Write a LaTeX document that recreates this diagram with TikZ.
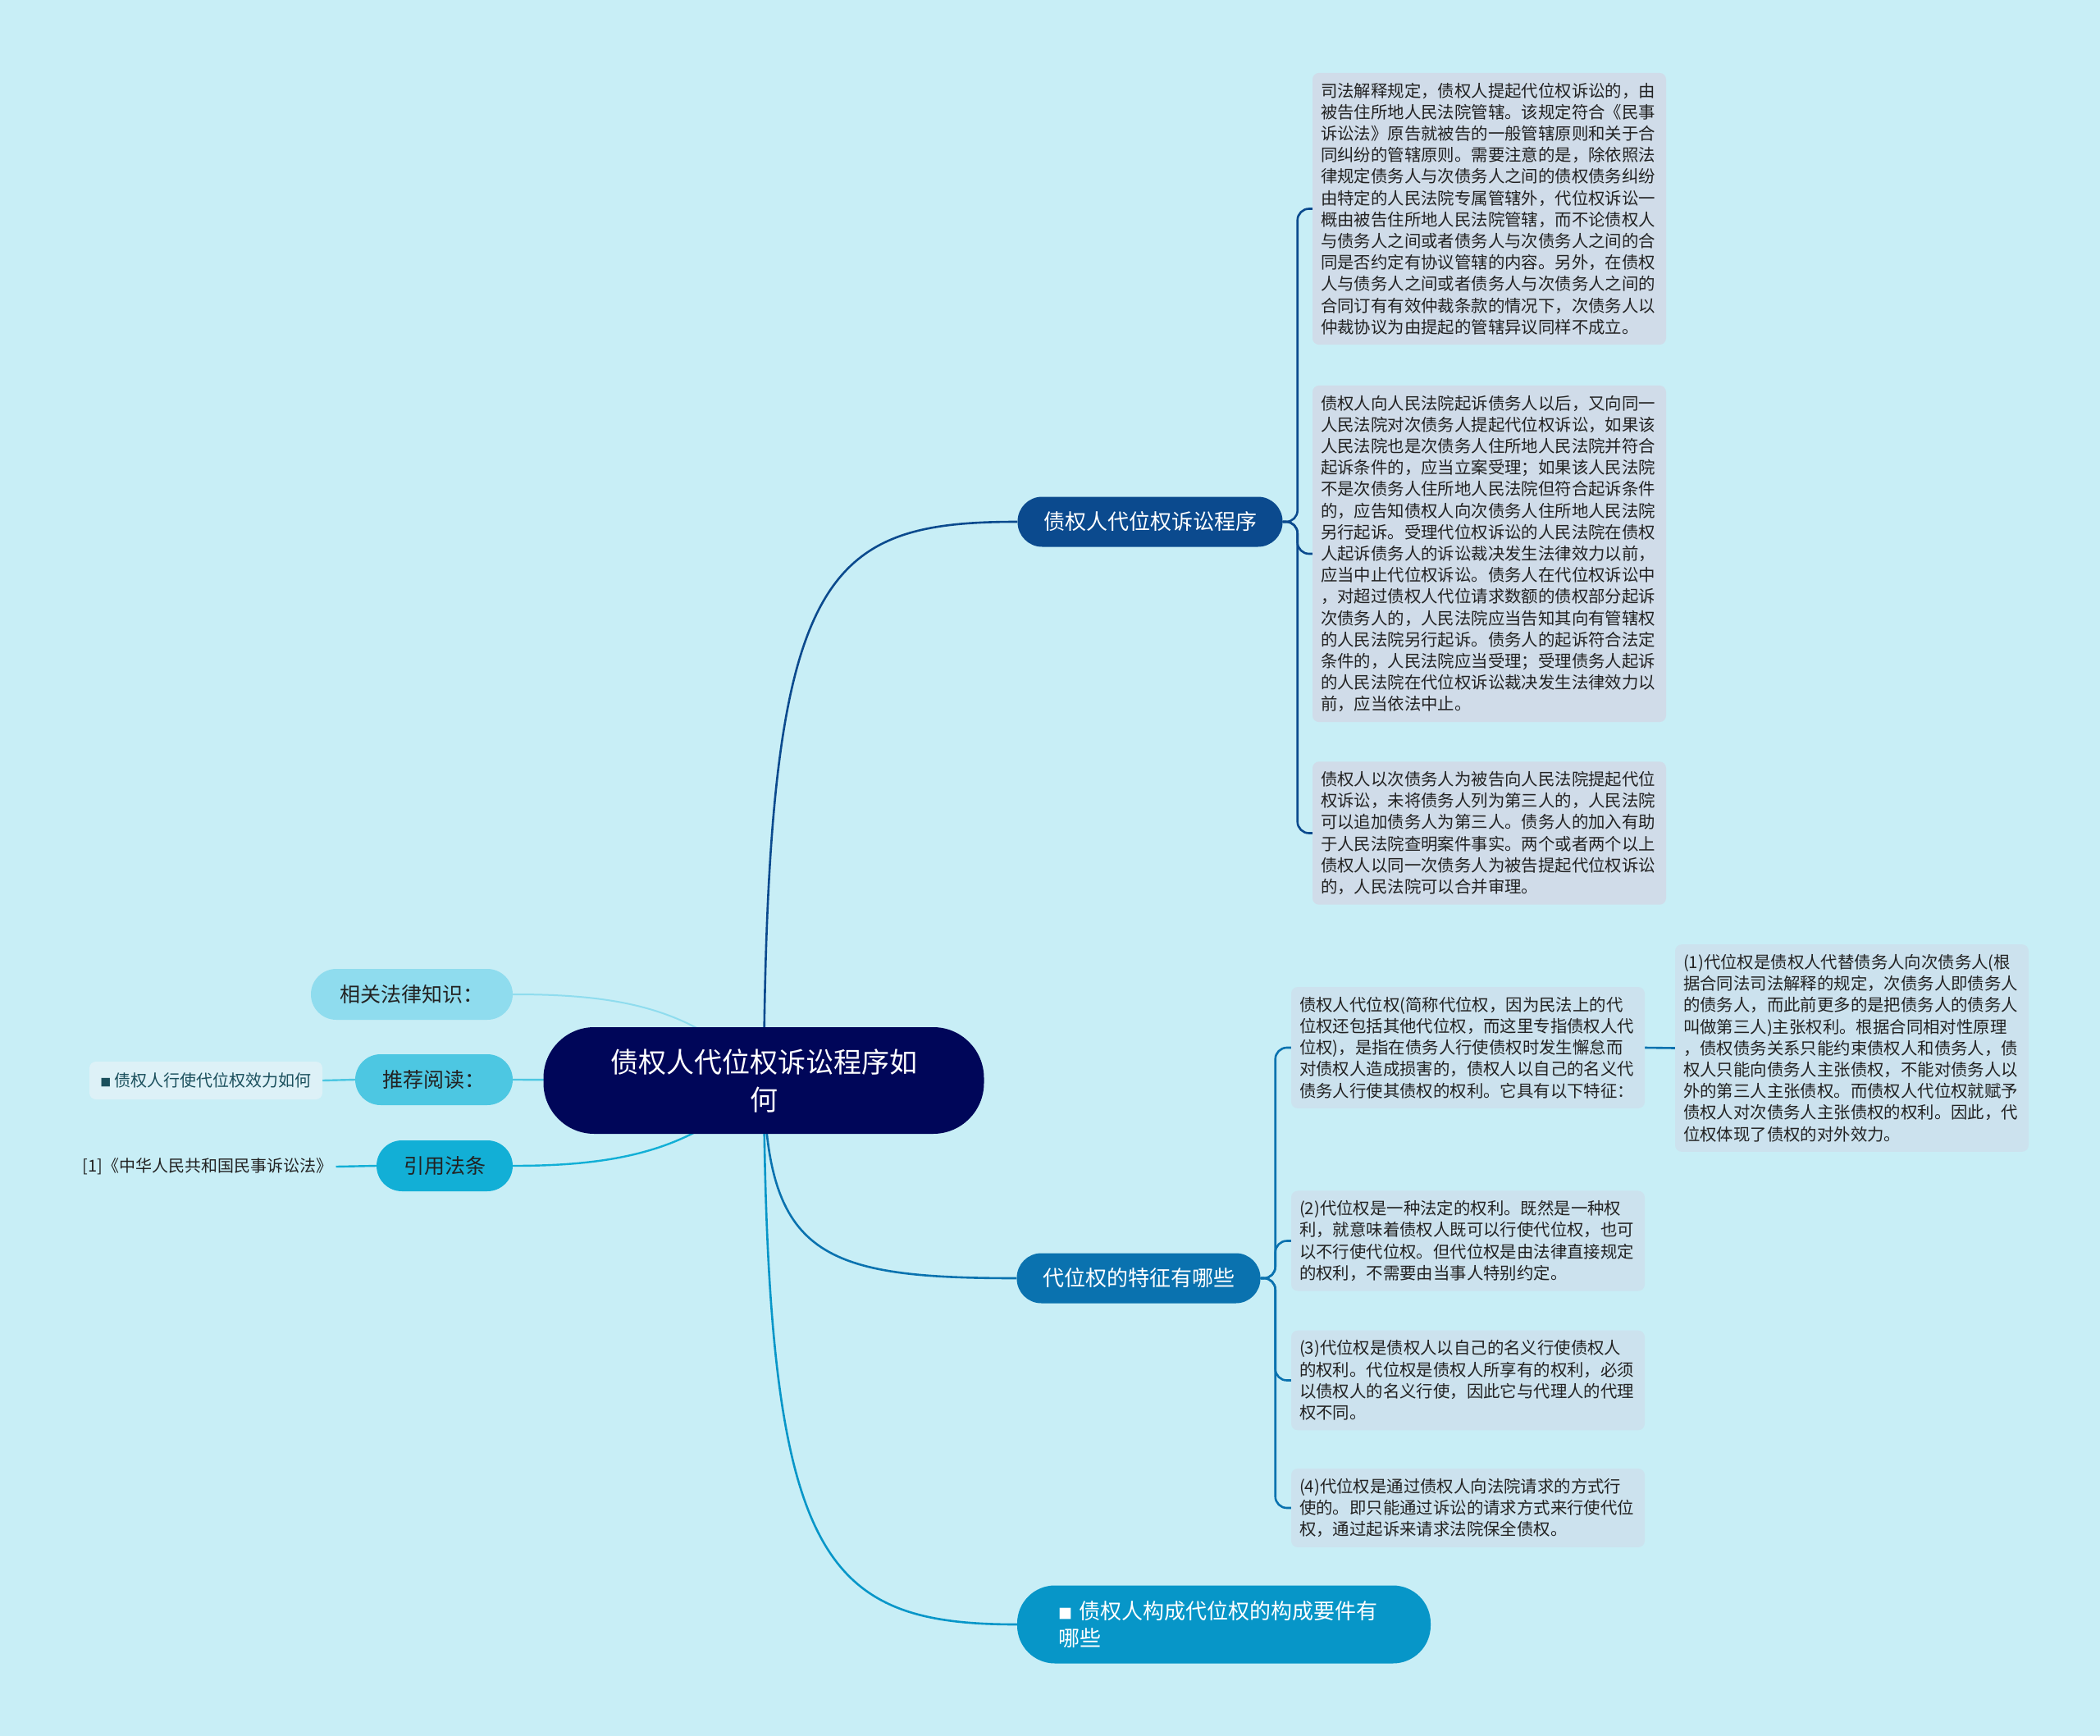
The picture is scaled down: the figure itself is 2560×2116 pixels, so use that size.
\documentclass[tikz,border=0pt]{standalone}
\usepackage{fontspec}
\setmainfont{Noto Sans CJK SC}

\definecolor{pagecol}{HTML}{C8EEF6}
\definecolor{rootcol}{HTML}{000659}
\definecolor{proccol}{HTML}{0B4A8E}
\definecolor{featcol}{HTML}{0A72AF}
\definecolor{elemcol}{HTML}{0796C8}
\definecolor{knowcol}{HTML}{8FDCEE}
\definecolor{readcol}{HTML}{4DC7E2}
\definecolor{citecol}{HTML}{12AFD6}
\definecolor{itemcol}{HTML}{DDF1F7}
\definecolor{noteA}{HTML}{D0DCE9}
\definecolor{noteB}{HTML}{CCE2EE}
\definecolor{inkcol}{HTML}{222222}
\definecolor{tealink}{HTML}{1A4F5C}

\pgfdeclarelayer{canvas}
\pgfdeclarelayer{links}
\pgfsetlayers{canvas,links,main}

\tikzset{
  rootnode/.style={fill=rootcol, text=white, rounded corners=62pt, align=center,
    minimum width=537pt, minimum height=130pt, inner sep=0pt,
    font=\fontsize{34}{46}\selectfont},
  topicpill/.style={text=white, rounded corners=30pt, inner sep=0pt,
    minimum height=61pt, font=\fontsize{26}{33}\selectfont},
  sidepill/.style={text=inkcol, rounded corners=31pt, inner sep=0pt,
    minimum height=62pt, font=\fontsize{25}{30}\selectfont},
  notebox/.style={text=inkcol, rounded corners=8pt, align=left, text width=411pt,
    inner xsep=10pt, inner ysep=12pt, font=\fontsize{20.4}{26.2}\selectfont},
  linkA/.style={draw=proccol, line width=2.6pt, rounded corners=14pt},
  linkB/.style={draw=featcol, line width=2.6pt, rounded corners=14pt},
  linkC/.style={draw=elemcol, line width=2.6pt}
}

\begin{document}
\begin{tikzpicture}[x=1pt, y=-1pt]
\useasboundingbox (0,0) rectangle (2560,2116);
\begin{pgfonlayer}{canvas}
\fill [pagecol] (0,0) rectangle (2560,2116);
\end{pgfonlayer}

% centre
\node [rootnode] (root) at (931,1317) {债权人代位权诉讼程序如\\何};

% right side topics
\node [topicpill, fill=proccol, minimum width=323pt] (proc) at (1402,636) {债权人代位权诉讼程序};
\node [topicpill, fill=featcol, minimum width=297pt] (feat) at (1388,1558) {代位权的特征有哪些};
\node [topicpill, fill=elemcol, minimum width=504pt, minimum height=95pt, rounded corners=46pt,
       align=left, text width=404pt, inner xsep=50pt] (elem) at (1492,1980)
      {{\fontsize{17}{20}\selectfont■} 债权人构成代位权的构成要件有\\哪些};

% left side
\node [sidepill, fill=knowcol, minimum width=246pt] (know) at (502,1212) {相关法律知识：};
\node [sidepill, fill=readcol, minimum width=192pt] (read) at (529,1316) {推荐阅读：};
\node [sidepill, fill=citecol, minimum width=166pt] (cite) at (542,1421) {引用法条};
\node [fill=itemcol, rounded corners=8pt, text=tealink, minimum width=284pt, minimum height=46pt,
       inner sep=0pt, font=\fontsize{20}{24}\selectfont] (readitem) at (251,1317)
      {{\fontsize{13}{16}\selectfont■} 债权人行使代位权效力如何};
\node [text=inkcol, inner sep=4pt, font=\fontsize{20}{24}\selectfont] (law) at (253,1422)
      {[1]《中华人民共和国民事诉讼法》};

% notes of the first topic
\node [notebox, fill=noteA] (a1) at (1815.5,254.5) {%
司法解释规定，债权人提起代位权诉讼的，由\\
被告住所地人民法院管辖。该规定符合《民事\\
诉讼法》原告就被告的一般管辖原则和关于合\\
同纠纷的管辖原则。需要注意的是，除依照法\\
律规定债务人与次债务人之间的债权债务纠纷\\
由特定的人民法院专属管辖外，代位权诉讼一\\
概由被告住所地人民法院管辖，而不论债权人\\
与债务人之间或者债务人与次债务人之间的合\\
同是否约定有协议管辖的内容。另外，在债权\\
人与债务人之间或者债务人与次债务人之间的\\
合同订有有效仲裁条款的情况下，次债务人以\\
仲裁协议为由提起的管辖异议同样不成立。};

\node [notebox, fill=noteA] (a2) at (1815.5,675) {%
债权人向人民法院起诉债务人以后，又向同一\\
人民法院对次债务人提起代位权诉讼，如果该\\
人民法院也是次债务人住所地人民法院并符合\\
起诉条件的，应当立案受理；如果该人民法院\\
不是次债务人住所地人民法院但符合起诉条件\\
的，应告知债权人向次债务人住所地人民法院\\
另行起诉。受理代位权诉讼的人民法院在债权\\
人起诉债务人的诉讼裁决发生法律效力以前，\\
应当中止代位权诉讼。债务人在代位权诉讼中\\
，对超过债权人代位请求数额的债权部分起诉\\
次债务人的，人民法院应当告知其向有管辖权\\
的人民法院另行起诉。债务人的起诉符合法定\\
条件的，人民法院应当受理；受理债务人起诉\\
的人民法院在代位权诉讼裁决发生法律效力以\\
前，应当依法中止。};

\node [notebox, fill=noteA] (a3) at (1815.5,1015.5) {%
债权人以次债务人为被告向人民法院提起代位\\
权诉讼，未将债务人列为第三人的，人民法院\\
可以追加债务人为第三人。债务人的加入有助\\
于人民法院查明案件事实。两个或者两个以上\\
债权人以同一次债务人为被告提起代位权诉讼\\
的，人民法院可以合并审理。};

% notes of the second topic
\node [notebox, fill=noteB] (b1) at (1789.5,1277) {%
债权人代位权(简称代位权，因为民法上的代\\
位权还包括其他代位权，而这里专指债权人代\\
位权)，是指在债务人行使债权时发生懈怠而\\
对债权人造成损害的，债权人以自己的名义代\\
债务人行使其债权的权利。它具有以下特征：};

\node [notebox, fill=noteB] (b1sub) at (2257.5,1277.5) {%
(1)代位权是债权人代替债务人向次债务人(根\\
据合同法司法解释的规定，次债务人即债务人\\
的债务人，而此前更多的是把债务人的债务人\\
叫做第三人)主张权利。根据合同相对性原理\\
，债权债务关系只能约束债权人和债务人，债\\
权人只能向债务人主张债权，不能对债务人以\\
外的第三人主张债权。而债权人代位权就赋予\\
债权人对次债务人主张债权的权利。因此，代\\
位权体现了债权的对外效力。};

\node [notebox, fill=noteB] (b2) at (1789.5,1512.5) {%
(2)代位权是一种法定的权利。既然是一种权\\
利，就意味着债权人既可以行使代位权，也可\\
以不行使代位权。但代位权是由法律直接规定\\
的权利，不需要由当事人特别约定。};

\node [notebox, fill=noteB] (b3) at (1789.5,1682.5) {%
(3)代位权是债权人以自己的名义行使债权人\\
的权利。代位权是债权人所享有的权利，必须\\
以债权人的名义行使，因此它与代理人的代理\\
权不同。};

\node [notebox, fill=noteB] (b4) at (1789.5,1838) {%
(4)代位权是通过债权人向法院请求的方式行\\
使的。即只能通过诉讼的请求方式来行使代位\\
权，通过起诉来请求法院保全债权。};

% connectors
\begin{pgfonlayer}{links}
\draw [linkA] (root.center) .. controls (935,700) and (1000,636) .. (proc.west);
\draw [linkB] (root.center) .. controls (935,1530) and (1000,1558) .. (feat.west);
\draw [linkC] (root.center) .. controls (935,1900) and (1000,1980) .. (elem.west);

\draw [draw=knowcol, line width=2pt] (know.east) .. controls (760,1212) and (850,1230) .. (root.center);
\draw [draw=readcol, line width=2.4pt] (read.east) -- (root.center);
\draw [draw=citecol, line width=2.4pt] (cite.east) .. controls (760,1421) and (850,1400) .. (root.center);
\draw [draw=readcol, line width=2.4pt] (read.west) -- (readitem.east);
\draw [draw=citecol, line width=2.4pt] (cite.west) -- (law.east);

\foreach \n in {a1,a2,a3}
  \draw [linkA] (proc.east) -- ++(18,0) |- (\n.west);
\foreach \n in {b1,b2,b3,b4}
  \draw [linkB] (feat.east) -- ++(18,0) |- (\n.west);
\draw [linkB] (b1.east) -- (b1sub.west);
\end{pgfonlayer}

\end{tikzpicture}
\end{document}
